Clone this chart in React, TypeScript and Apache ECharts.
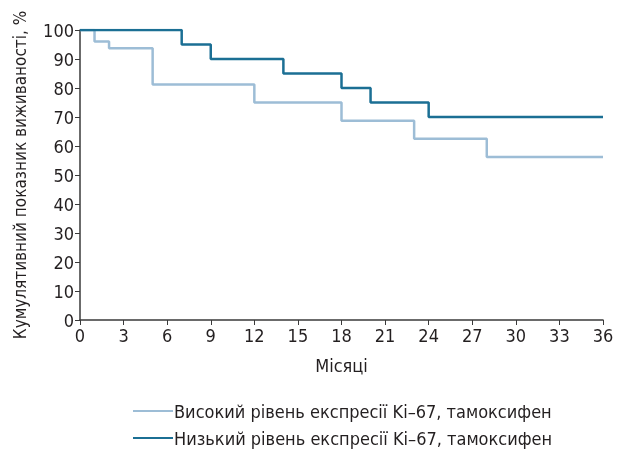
import React, { useEffect, useRef } from "react";
import * as echarts from "echarts";

const xTicks = [0, 3, 6, 9, 12, 15, 18, 21, 24, 27, 30, 33, 36];
const highName = "Високий рівень експресії Ki–67, тамоксифен";
const lowName = "Низький рівень експресії Ki–67, тамоксифен";
const highMonths = [0, 1, 2, 5, 12, 18, 23, 28, 36];
const highValues = [100, 96, 93.75, 81.25, 75, 68.75, 62.5, 56.25, 56.25];
const lowMonths = [0, 7, 9, 14, 18, 20, 24, 36];
const lowValues = [100, 95, 90, 85, 80, 75, 70, 70];

const FONT = "'Liberation Sans Narrow', 'DejaVu Sans Condensed', sans-serif";
const TXT = "#231f20";
const HIGH_C = "#9dbdd6";
const LOW_C = "#1b6f94";

export default function App() {
  const ref = useRef<HTMLDivElement>(null);
  useEffect(() => {
    if (!ref.current) return;
    const chart = echarts.init(ref.current, null, { renderer: "svg" });
    const legendBase = {
      orient: "horizontal",
      left: 128,
      itemWidth: 40,
      itemHeight: 14,
      icon: "path://M0,6 L40,6 L40,8 L0,8 Z",
      textStyle: { fontSize: 18, color: TXT, fontFamily: FONT, padding: [0, 0, 0, -4] },
    };
    chart.setOption({
      animation: false,
      textStyle: { fontFamily: FONT, color: TXT },
      grid: { left: 80, right: 14, top: 30, bottom: 129, outerBoundsMode: "none", containLabel: false },
      xAxis: {
        type: "value",
        min: 0,
        max: 36,
        interval: 3,
        name: "Місяці",
        nameLocation: "middle",
        nameGap: 36,
        nameTextStyle: { fontSize: 18, color: TXT, fontFamily: FONT },
        axisLine: { lineStyle: { color: "#3a3a3a", width: 1.5 } },
        axisTick: { show: true, length: 5, lineStyle: { color: "#3a3a3a" } },
        axisLabel: { fontSize: 18, color: TXT, fontFamily: FONT, margin: 6, showMaxLabel: true },
        splitLine: { show: false },
      },
      yAxis: {
        type: "value",
        min: 0,
        max: 100,
        interval: 10,
        name: "Кумулятивний показник виживаності, %",
        nameLocation: "middle",
        nameGap: 52,
        nameTextStyle: { fontSize: 17, color: TXT, fontFamily: FONT },
        axisLine: { show: true, lineStyle: { color: "#3a3a3a", width: 1.5 } },
        axisTick: { show: true, length: 5, lineStyle: { color: "#3a3a3a" } },
        axisLabel: { fontSize: 18, color: TXT, fontFamily: FONT, margin: 6 },
        splitLine: { show: false },
      },
      legend: [
        { ...legendBase, top: 397, data: [highName] },
        { ...legendBase, top: 424, data: [lowName] },
      ],
      series: [
        {
          name: highName,
          type: "line",
          step: "end",
          symbol: "none",
          lineStyle: { color: HIGH_C, width: 2.5 },
          itemStyle: { color: HIGH_C },
          data: highMonths.map((m, i) => [m, highValues[i]]),
        },
        {
          name: lowName,
          type: "line",
          step: "end",
          symbol: "none",
          lineStyle: { color: LOW_C, width: 2.5 },
          itemStyle: { color: LOW_C },
          data: lowMonths.map((m, i) => [m, lowValues[i]]),
        },
      ],
    });
    return () => chart.dispose();
  }, []);
  return (
    <div
      ref={ref}
      style={{ position: "fixed", left: 0, top: 0, width: 617, height: 449, overflow: "hidden" }}
    />
  );
}
